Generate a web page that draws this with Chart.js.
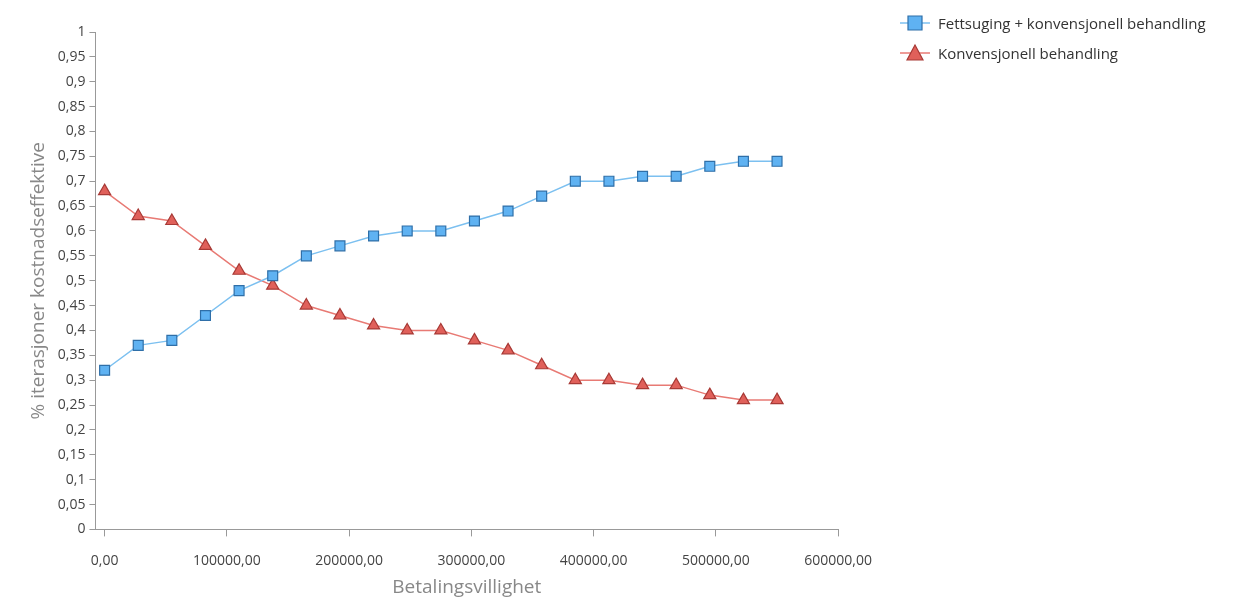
<!DOCTYPE html>
<html><head><meta charset="utf-8">
<script src="https://cdn.jsdelivr.net/npm/chart.js@4"></script>
<style>
body{margin:0;background:#fff;font-family:"Open Sans",sans-serif;}
#wrap{position:absolute;left:0;top:0;width:888px;height:599px;}
#legend{position:absolute;left:900px;top:8px;font-size:15px;color:#333;}
.item{display:flex;align-items:center;height:30px;}
.item canvas{margin-right:8px;}
</style></head><body>
<div id="wrap"><canvas id="c"></canvas></div>
<div id="legend"></div>
<script>
const betaling = [0, 27500, 55000, 82500, 110000, 137500, 165000, 192500, 220000, 247500, 275000,
  302500, 330000, 357500, 385000, 412500, 440000, 467500, 495000, 522500, 550000];
const fettsuging = [0.32, 0.37, 0.38, 0.43, 0.48, 0.51, 0.55, 0.57, 0.59, 0.60, 0.60,
  0.62, 0.64, 0.67, 0.70, 0.70, 0.71, 0.71, 0.73, 0.74, 0.74];
const konvensjonell = [0.68, 0.63, 0.62, 0.57, 0.52, 0.49, 0.45, 0.43, 0.41, 0.40, 0.40,
  0.38, 0.36, 0.33, 0.30, 0.30, 0.29, 0.29, 0.27, 0.26, 0.26];
const xTicks = [0, 100000, 200000, 300000, 400000, 500000, 600000];

const series = [
  { label: 'Fettsuging + konvensjonell behandling', data: fettsuging, line: '#7cc0f0', fill: '#5fb2f2', border: '#2f6fa8', style: 'rect' },
  { label: 'Konvensjonell behandling', data: konvensjonell, line: '#e87a74', fill: '#e0605a', border: '#a83a36', style: 'triangle' },
];

const fmt = v => v.toFixed(2).replace('.', ',');
const tickFont = { family: '"Open Sans", sans-serif', size: 14 };
const titleFont = { family: '"Open Sans", sans-serif', size: 19 };

new Chart(document.getElementById('c'), {
  type: 'line',
  data: {
    datasets: series.map(s => ({
      label: s.label,
      data: s.data.map((y, i) => ({ x: betaling[i], y })),
      borderColor: s.line,
      borderWidth: 1.5,
      backgroundColor: s.fill,
      pointBorderColor: s.border,
      pointBorderWidth: 1.2,
      pointStyle: s.style,
      pointRadius: 7,
      tension: 0,
    })),
  },
  options: {
    responsive: true,
    maintainAspectRatio: false,
    animation: false,
    layout: { padding: { top: 32, right: 45, left: 23, bottom: 0 } },
    plugins: { legend: { display: false }, tooltip: { enabled: false } },
    scales: {
      x: {
        type: 'linear', min: -7500, max: 600000,
        afterBuildTicks: a => { a.ticks = xTicks.map(v => ({ value: v })); },
        grid: { display: true, drawOnChartArea: false, drawTicks: true, tickLength: 7, color: '#999' },
        border: { color: '#999', display: true },
        ticks: { color: '#444', font: tickFont, padding: 16, callback: v => fmt(v) },
        title: { display: true, text: 'Betalingsvillighet', color: '#888', font: titleFont, padding: { top: -9, bottom: 0 } },
      },
      y: {
        min: 0, max: 1,
        grid: { drawOnChartArea: false, tickLength: 6, color: '#999' },
        border: { color: '#999' },
        ticks: { stepSize: 0.05, color: '#444', font: tickFont, padding: 4, callback: v => (Math.round(v * 100) / 100).toString().replace('.', ',') },
        title: { display: true, text: '% iterasjoner kostnadseffektive', color: '#888', font: titleFont },
      },
    },
  },
});

const leg = document.getElementById('legend');
series.forEach(s => {
  const d = document.createElement('div'); d.className = 'item';
  const cv = document.createElement('canvas'); cv.width = 30; cv.height = 20;
  const g = cv.getContext('2d');
  g.strokeStyle = s.line; g.lineWidth = 1.5; g.beginPath(); g.moveTo(0, 10); g.lineTo(30, 10); g.stroke();
  g.fillStyle = s.fill; g.strokeStyle = s.border; g.lineWidth = 1.2; g.beginPath();
  if (s.style === 'rect') g.rect(8, 3, 14, 14); else { g.moveTo(15, 2); g.lineTo(23, 17); g.lineTo(7, 17); g.closePath(); }
  g.fill(); g.stroke();
  d.appendChild(cv);
  const t = document.createElement('span'); t.textContent = s.label; d.appendChild(t);
  leg.appendChild(d);
});
</script>
</body></html>
